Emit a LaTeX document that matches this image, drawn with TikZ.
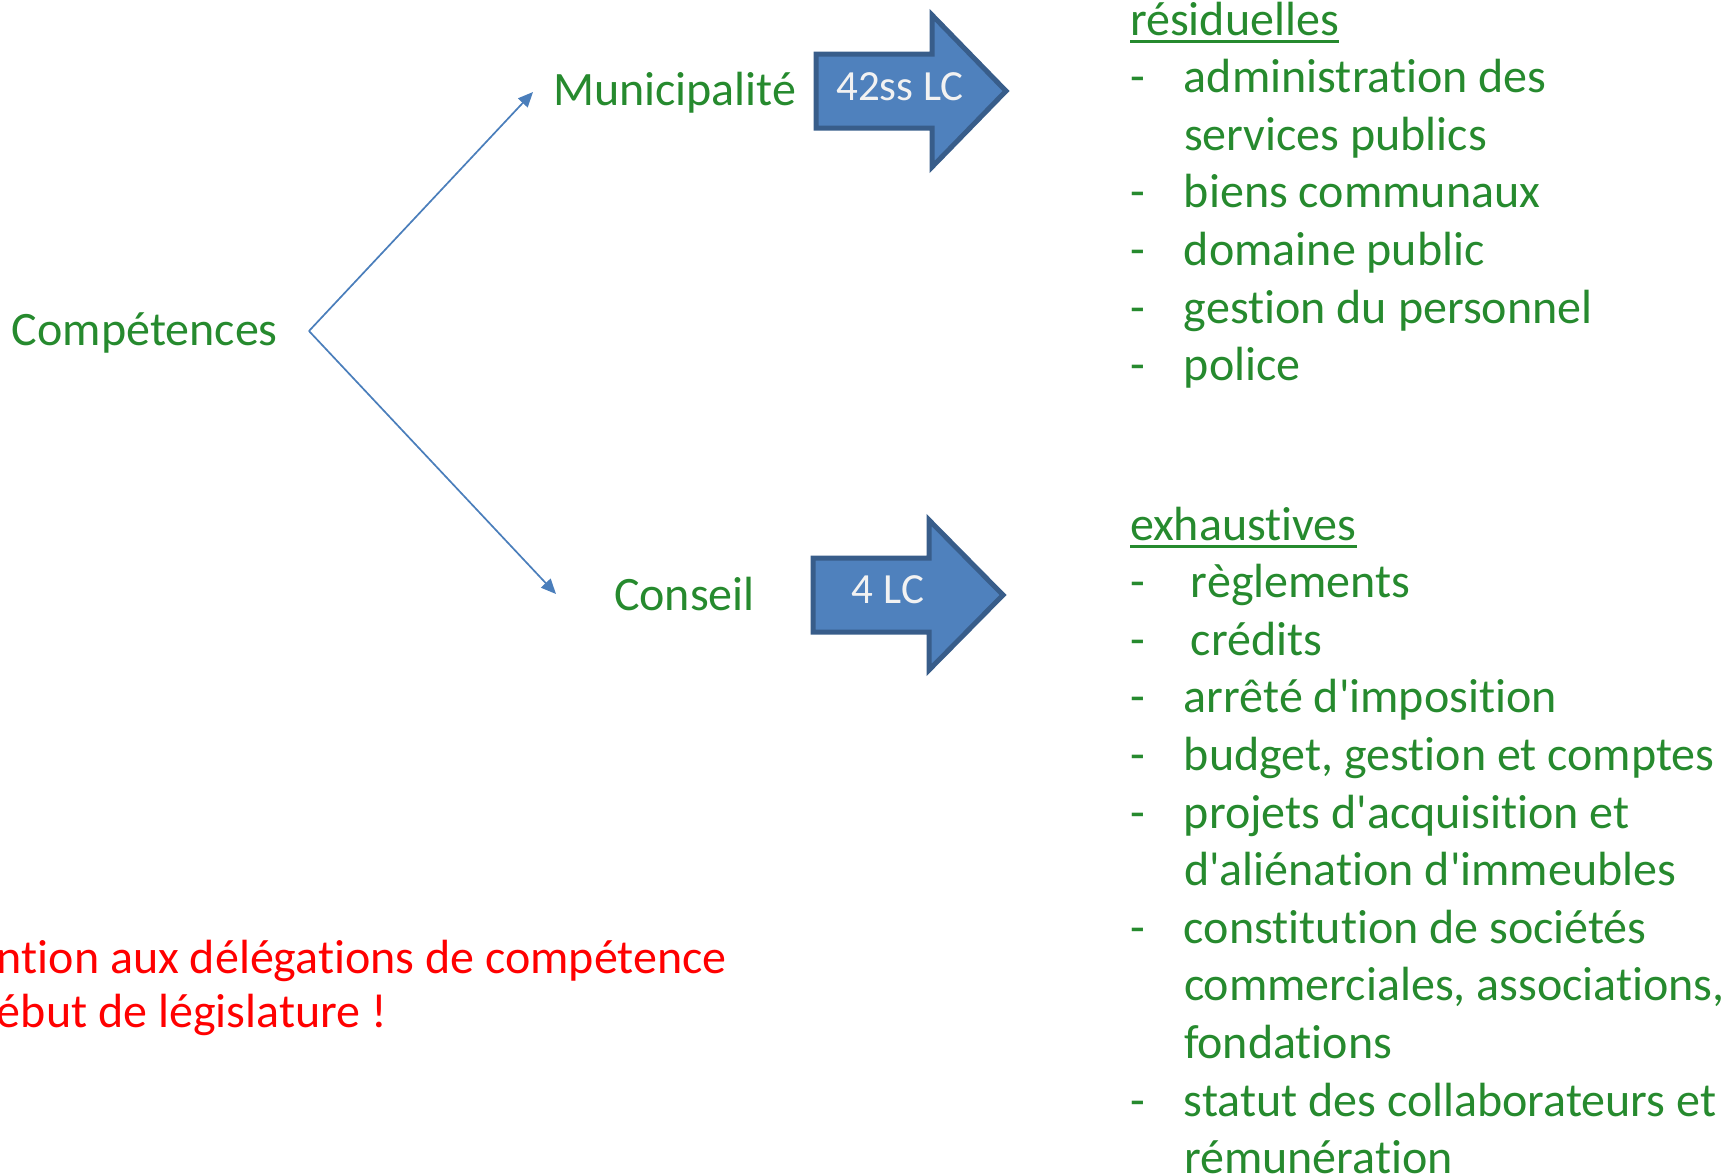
\documentclass[tikz,border=0pt]{standalone}
\usepackage{amsmath}
\usepackage{fontspec}
\setmainfont{Carlito}[Ligatures={TeXOff,NoCommon}]
\usepackage{tikz}
\usetikzlibrary{arrows.meta}
\definecolor{txtgreen}{RGB}{38,138,46}
\definecolor{arrowfill}{RGB}{79,129,189}
\definecolor{arrowline}{RGB}{56,93,138}
\definecolor{linkblue}{RGB}{74,126,187}
\newsavebox\undlbox
\newcommand{\undl}[1]{\sbox\undlbox{#1}\rlap{\rule[-8pt]{\wd\undlbox}{3pt}}\usebox\undlbox}

\begin{document}
\begin{tikzpicture}[x=1pt,y=-1pt,
        every node/.style={inner sep=0pt,outer sep=0pt},
        lbl/.style={font=\fontsize{48}{57.6}\selectfont,text=txtgreen,anchor=base west},
        note/.style={font=\fontsize{48}{54}\selectfont,text=red,anchor=base west},
        arrowlbl/.style={font=\fontsize{43}{50}\selectfont,text=white!95!black,anchor=base},
        link/.style={draw=linkblue,line width=1.7pt,-{Triangle[length=15pt,width=13pt]}},
        blockarrow/.style={fill=arrowfill,draw=arrowline,line width=5pt,line join=miter}]
        \useasboundingbox (0,0) rectangle (1728,1175);
        \node[lbl] (comp) at (12,345) {Compétences};
        \node[lbl] (muni) at (553,105) {Municipalité};
        \node[lbl] (cons) at (614,610) {Conseil};
        \coordinate (fork) at (309,331);
        \coordinate (munitip) at (533,92);
        \coordinate (constip) at (556,594);
        \draw[link] (fork) -- (munitip);
        \draw[link] (fork) -- (constip);
        \draw[blockarrow] (816,54) -- (932,54) -- (932,15) -- (1006,91) -- (932,167) -- (932,128) -- (816,128) -- cycle;
        \node[arrowlbl] (lcmuni) at (900,100) {42ss LC};
        \draw[blockarrow] (813,558) -- (929,558) -- (929,520) -- (1003,595) -- (929,670) -- (929,632) -- (813,632) -- cycle;
        \node[arrowlbl] (lccons) at (888,603) {4 LC};
        \node[lbl] (resid) at (1130,35) {\begin{tabular}[t]{@{}p{54pt}@{}l@{}}
                \multicolumn{2}{@{}l@{}}{\undl{résiduelles}}\\
                - & administration des\\
                  & services publics\\
                - & biens communaux\\
                - & domaine public\\
                - & gestion du personnel\\
                - & police
            \end{tabular}};
        \node[lbl] (exhau) at (1130,540) {\begin{tabular}[t]{@{}p{54pt}@{}l@{}}
                \multicolumn{2}{@{}l@{}}{\undl{exhaustives}}\\
                - & \hspace{7pt}règlements\\
                - & \hspace{7pt}crédits\\
                - & arrêté d'imposition\\
                - & budget, gestion et comptes\\
                - & projets d'acquisition et\\
                  & d'aliénation d'immeubles\\
                - & constitution de sociétés\\
                  & commerciales, associations,\\
                  & fondations\\
                - & statut des collaborateurs et\\
                  & rémunération
            \end{tabular}};
        \node[note] (attn) at (-3,973) {\begin{tabular}[t]{@{}l@{}}
                ntion aux délégations de compétence\\
                ébut de législature !
            \end{tabular}};
\end{tikzpicture}
\end{document}
